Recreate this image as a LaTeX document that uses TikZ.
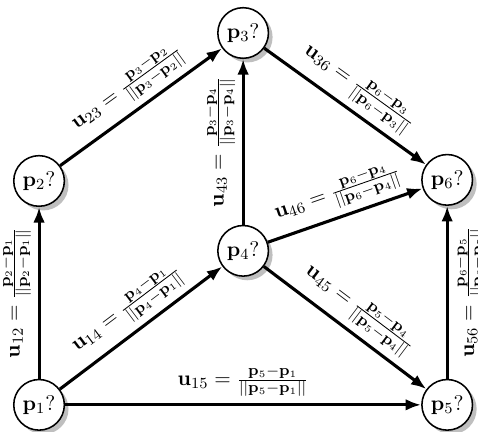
\documentclass[tikz,border=0pt]{standalone}
\usepackage{amsmath}
\usetikzlibrary{shadows,arrows.meta}

\begin{document}
\begin{tikzpicture}[font=\fontsize{11}{13.6}\selectfont,
pnode/.style={circle, draw, thick, fill=white, drop shadow, minimum size=0.92cm, inner sep=0pt},
uedge/.style={-{Latex[length=8pt,width=6pt]}, line width=1.6pt}]
\useasboundingbox (-0.71,-0.49) rectangle (7.98,7.36);
\node [pnode] (p1) at (0,0) {$\mathbf{p}_1?$};
\node [pnode] (p2) at (0,4.07) {$\mathbf{p}_2?$};
\node [pnode] (p3) at (3.71,6.76) {$\mathbf{p}_3?$};
\node [pnode] (p4) at (3.71,2.80) {$\mathbf{p}_4?$};
\node [pnode] (p5) at (7.42,0) {$\mathbf{p}_5?$};
\node [pnode] (p6) at (7.42,4.09) {$\mathbf{p}_6?$};
% edges with their unit vectors
\draw [uedge] (p1) -- node [above, sloped] {$\mathbf{u}_{12} = \frac{\mathbf{p}_2-\mathbf{p}_1}{||\mathbf{p}_2-\mathbf{p}_1||}$} (p2);
\draw [uedge] (p1) -- node [above, sloped] {$\mathbf{u}_{14} = \frac{\mathbf{p}_4-\mathbf{p}_1}{||\mathbf{p}_4-\mathbf{p}_1||}$} (p4);
\draw [uedge] (p1) -- node [above, sloped] {$\mathbf{u}_{15} = \frac{\mathbf{p}_5-\mathbf{p}_1}{||\mathbf{p}_5-\mathbf{p}_1||}$} (p5);
\draw [uedge] (p2) -- node [above, sloped] {$\mathbf{u}_{23} = \frac{\mathbf{p}_3-\mathbf{p}_2}{||\mathbf{p}_3-\mathbf{p}_2||}$} (p3);
\draw [uedge] (p4) -- node [above, sloped] {$\mathbf{u}_{43} = \frac{\mathbf{p}_3-\mathbf{p}_4}{||\mathbf{p}_3-\mathbf{p}_4||}$} (p3);
\draw [uedge] (p3) -- node [above, sloped] {$\mathbf{u}_{36} = \frac{\mathbf{p}_6-\mathbf{p}_3}{||\mathbf{p}_6-\mathbf{p}_3||}$} (p6);
\draw [uedge] (p4) -- node [above, sloped] {$\mathbf{u}_{46} = \frac{\mathbf{p}_6-\mathbf{p}_4}{||\mathbf{p}_6-\mathbf{p}_4||}$} (p6);
\draw [uedge] (p4) -- node [above, sloped] {$\mathbf{u}_{45} = \frac{\mathbf{p}_5-\mathbf{p}_4}{||\mathbf{p}_5-\mathbf{p}_4||}$} (p5);
\draw [uedge] (p5) -- node [below, sloped] {$\mathbf{u}_{56} = \frac{\mathbf{p}_6-\mathbf{p}_5}{||\mathbf{p}_6-\mathbf{p}_5||}$} (p6);
\end{tikzpicture}
\end{document}
